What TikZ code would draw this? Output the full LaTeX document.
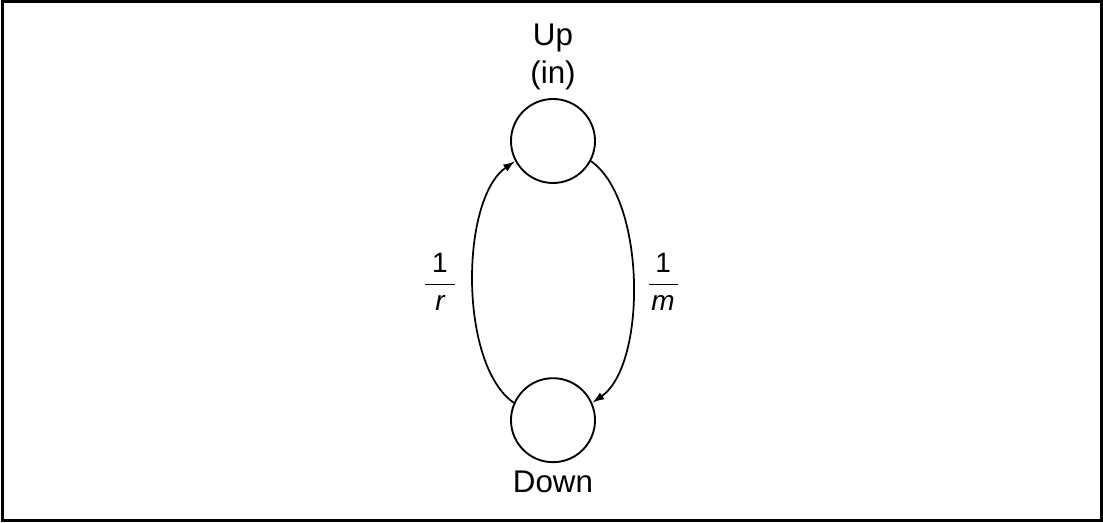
\documentclass[tikz,border=0pt]{standalone}
\usepackage{fontspec}
\usepackage{amsmath}
\setmainfont{Liberation Sans}
\usetikzlibrary{positioning, arrows.meta}

\begin{document}
\begin{tikzpicture}[
    x=0.75pt, y=-0.75pt,
    state/.style={
        draw,
        circle,
        line width=1.4pt,
        minimum size=63pt,
        inner sep=0pt
    },
    lbl/.style={font=\fontsize{23.5}{28}\selectfont, inner sep=0pt},
    rate/.style={font=\fontsize{21}{25}\selectfont, inner sep=0pt},
    arc/.style={line width=1.3pt, -{Latex[length=9pt,width=6pt]}}
]

% === Frame ===
\useasboundingbox (0,0) rectangle (1103,523);
\draw[line width=2.25pt] (2,2) rectangle (1101,521);

% === States ===
\node[state] (up) at (553,141) {};
\node[state, below=145pt of up] (down) {};
\node[lbl, align=center, above=6pt of up] {Up\\(in)};
\node[lbl, below=6pt of down] {Down};

% === Transitions ===
\draw[arc] (down.156) .. controls +(-55,-38) and +(-55,38) .. (up.208)
    node[rate, midway, left=12pt] {$\dfrac{\hspace{0.25em}\text{1}\hspace{0.25em}}{\textit{r}}$};
\draw[arc] (up.332) .. controls +(55,38) and +(55,-38) .. (down.24)
    node[rate, midway, right=10pt] {$\dfrac{\text{1}}{\hspace{0.1em}\textit{m}\hspace{0.1em}}$};

\end{tikzpicture}
\end{document}
